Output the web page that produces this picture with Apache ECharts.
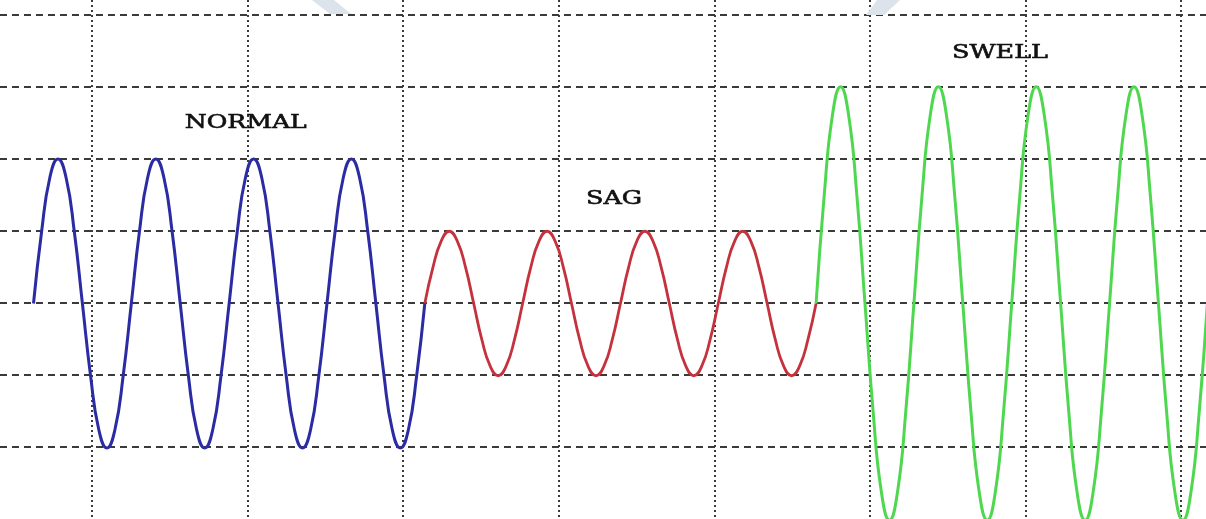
<!DOCTYPE html>
<html>
<head>
<meta charset="utf-8">
<script src="https://cdn.jsdelivr.net/npm/echarts@6/dist/echarts.min.js"></script>
<style>
  html, body { margin: 0; padding: 0; background: #ffffff; }
  #chart { width: 1206px; height: 519px; }
</style>
</head>
<body>
<div id="chart"></div>
<script>
// ---- DATA ----
// Sample period: 12 samples per 20 ms cycle (50 Hz), values in per-unit.
const sampleStepMs = 20 / 12;
const normalStartMs = 0;
const sagStartMs = 80;
const swellStartMs = 160;

const normalValues = [
  0, 0.5, 0.87, 1, 0.87, 0.5, 0, -0.5, -0.87, -1, -0.87, -0.5,
  0, 0.5, 0.87, 1, 0.87, 0.5, 0, -0.5, -0.87, -1, -0.87, -0.5,
  0, 0.5, 0.87, 1, 0.87, 0.5, 0, -0.5, -0.87, -1, -0.87, -0.5,
  0, 0.5, 0.87, 1, 0.87, 0.5, 0, -0.5, -0.87, -1, -0.87, -0.5,
  0
];
const sagValues = [
  0, 0.25, 0.43, 0.5, 0.43, 0.25, 0, -0.25, -0.43, -0.5, -0.43, -0.25,
  0, 0.25, 0.43, 0.5, 0.43, 0.25, 0, -0.25, -0.43, -0.5, -0.43, -0.25,
  0, 0.25, 0.43, 0.5, 0.43, 0.25, 0, -0.25, -0.43, -0.5, -0.43, -0.25,
  0, 0.25, 0.43, 0.5, 0.43, 0.25, 0, -0.25, -0.43, -0.5, -0.43, -0.25,
  0
];
const swellValues = [
  0, 0.75, 1.3, 1.5, 1.3, 0.75, 0, -0.75, -1.3, -1.5, -1.3, -0.75,
  0, 0.75, 1.3, 1.5, 1.3, 0.75, 0, -0.75, -1.3, -1.5, -1.3, -0.75,
  0, 0.75, 1.3, 1.5, 1.3, 0.75, 0, -0.75, -1.3, -1.5, -1.3, -0.75,
  0, 0.75, 1.3, 1.5, 1.3, 0.75, 0, -0.75, -1.3, -1.5, -1.3, -0.75,
  0
];
const labelTexts = ['NORMAL', 'SAG', 'SWELL'];
const labelTimesMs = [43.4, 118.7, 197.6];
const labelLevels = [1.25, 0.72, 1.73];

// ---- STYLE / LAYOUT ----
const labelTargetWidths = [122, 56, 96];
const seriesColors = ['#2b2ba3', '#c4323e', '#4fd84f'];

function toPairs(values, startMs) {
  return values.map((v, i) => [startMs + i * sampleStepMs, v]);
}

const hiddenAxisParts = {
  axisLine: { show: false }, axisTick: { show: false }, axisLabel: { show: false }
};

const chart = echarts.init(document.getElementById('chart'), null, { renderer: 'canvas' });

const option = {
  animation: false,
  backgroundColor: '#ffffff',
  grid: [
    { left: 0, top: 0, width: 1206, height: 519 },     // data
    { left: 92, top: 0, width: 1114, height: 519 },    // vertical grid lines
    { left: 0, top: 15, width: 1206, height: 504 }     // horizontal grid lines
  ],
  xAxis: [
    { type: 'value', gridIndex: 0, min: -6.849, max: 239.72, show: false },
    Object.assign({
      type: 'value', gridIndex: 1, min: 0, max: 7.161, interval: 1,
      splitLine: { show: true, showMinLine: true, showMaxLine: false,
        lineStyle: { color: '#3a3a3a', width: 2, type: [2, 3] } }
    }, hiddenAxisParts),
    Object.assign({
      type: 'value', gridIndex: 2, min: 0, max: 1, splitLine: { show: false }
    }, hiddenAxisParts)
  ],
  yAxis: [
    { type: 'value', gridIndex: 0, min: -1.4913, max: 2.1003, show: false },
    Object.assign({
      type: 'value', gridIndex: 1, min: 0, max: 1, splitLine: { show: false }
    }, hiddenAxisParts),
    Object.assign({
      type: 'value', gridIndex: 2, min: 0, max: 7, interval: 1,
      splitLine: { show: true, showMinLine: false, showMaxLine: true,
        lineStyle: { color: '#3a3a3a', width: 1.8, type: [7, 5] } }
    }, hiddenAxisParts)
  ],
  series: [
    {
      name: 'NORMAL', type: 'line', xAxisIndex: 0, yAxisIndex: 0,
      data: toPairs(normalValues, normalStartMs), smooth: 0.5, showSymbol: false,
      lineStyle: { color: seriesColors[0], width: 3 }, z: 3
    },
    {
      name: 'SAG', type: 'line', xAxisIndex: 0, yAxisIndex: 0,
      data: toPairs(sagValues, sagStartMs), smooth: 0.5, showSymbol: false,
      lineStyle: { color: seriesColors[1], width: 2.8 }, z: 3
    },
    {
      name: 'SWELL', type: 'line', xAxisIndex: 0, yAxisIndex: 0,
      data: toPairs(swellValues, swellStartMs), smooth: 0.5, showSymbol: false,
      lineStyle: { color: seriesColors[2], width: 3 }, z: 3
    }
  ]
};
chart.setOption(option);

// Labels placed through the data scales
const fontFamily = '"DejaVu Serif", "Liberation Serif", serif';
const fontSize = 19;
const ctx = document.createElement('canvas').getContext('2d');
ctx.font = fontSize + 'px ' + fontFamily;

const graphics = [
  { type: 'polygon', silent: true, z: 0, shape: { points: [[312, 0], [334, 0], [351, 14], [330, 14]] }, style: { fill: '#dde3ea' } },
  { type: 'polygon', silent: true, z: 0, shape: { points: [[877, 0], [900, 0], [884, 15], [866, 15]] }, style: { fill: '#dde3ea' } }
];
labelTexts.forEach((txt, i) => {
  const p = chart.convertToPixel({ xAxisIndex: 0, yAxisIndex: 0 }, [labelTimesMs[i], labelLevels[i]]);
  const w = ctx.measureText(txt).width;
  graphics.push({
    type: 'text', silent: true, z: 10,
    x: p[0], y: p[1],
    scaleX: labelTargetWidths[i] / w,
    style: {
      text: txt, x: 0, y: 0, align: 'center', verticalAlign: 'middle',
      fontSize: fontSize, fontFamily: fontFamily, fontWeight: 'normal',
      fill: '#111111', stroke: '#111111', lineWidth: 0.6
    }
  });
});
chart.setOption({ graphic: graphics });
</script>
</body>
</html>
